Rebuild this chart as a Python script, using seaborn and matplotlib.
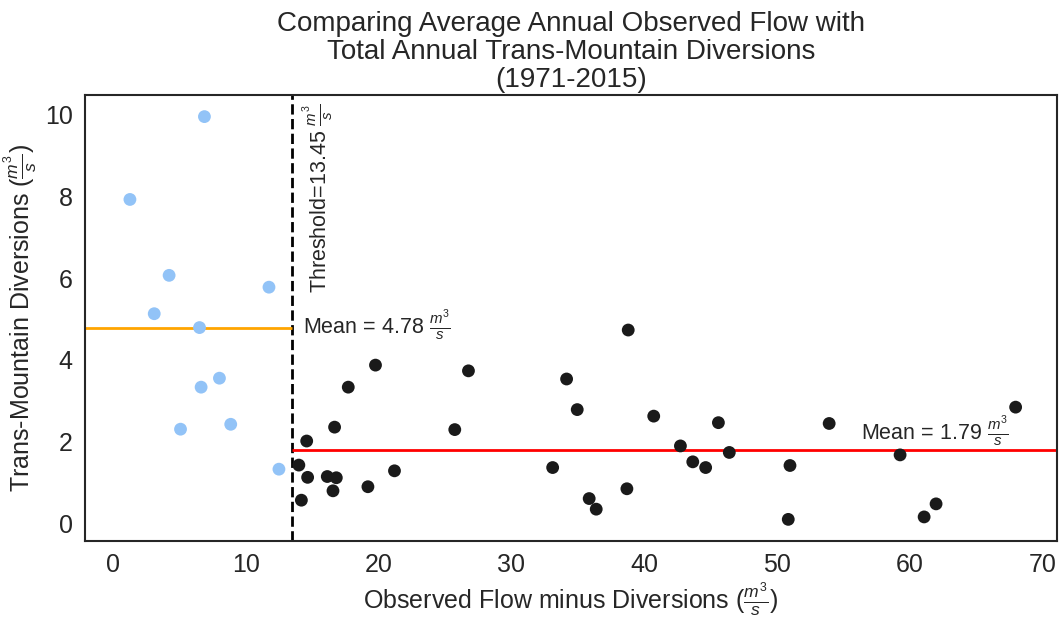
import numpy as np
import pandas as pd
import matplotlib
matplotlib.use("Agg")
import matplotlib.pyplot as plt
import seaborn as sns

# Points below the threshold (light blue)
below_x = [6.89, 1.28, 4.23, 11.75, 3.11, 6.52, 8.02, 6.64, 5.09, 8.87, 12.50]
below_y = [9.96, 7.93, 6.07, 5.78, 5.13, 4.79, 3.55, 3.33, 2.30, 2.42, 1.32]

# Points above the threshold (black)
above_x = [14.00, 14.59, 14.66, 14.19, 16.14, 16.82, 16.57, 16.69, 17.72, 19.77,
           19.20, 21.20, 25.74, 26.77, 33.11, 34.16, 34.96, 35.86, 36.39, 38.80,
           38.70, 40.72, 42.73, 43.66, 44.63, 45.59, 46.41, 50.98, 50.85, 53.93,
           59.27, 61.08, 61.98, 67.97]
above_y = [1.42, 2.01, 1.12, 0.56, 1.14, 1.11, 0.79, 2.35, 3.33, 3.87,
           0.89, 1.28, 2.29, 3.73, 1.36, 3.53, 2.78, 0.60, 0.34, 4.73,
           0.84, 2.62, 1.89, 1.50, 1.36, 2.46, 1.73, 1.41, 0.09, 2.44,
           1.67, 0.15, 0.47, 2.84]

threshold = 13.45
x_ticks = [0, 10, 20, 30, 40, 50, 60, 70]
y_ticks = [0, 2, 4, 6, 8, 10]

df = pd.DataFrame({
    "x": below_x + above_x,
    "y": below_y + above_y,
    "group": ["below"] * len(below_x) + ["above"] * len(above_x),
})

sns.set_theme(style="white")
plt.rcParams["font.family"] = ["Liberation Sans", "DejaVu Sans"]
plt.rcParams["mathtext.fontset"] = "custom"
plt.rcParams["mathtext.rm"] = "Liberation Sans"
plt.rcParams["mathtext.it"] = "Liberation Sans:italic"
plt.rcParams["mathtext.bf"] = "Liberation Sans:bold"

txt = "#262626"
fig = plt.figure(figsize=(10.59, 6.18), dpi=100)
ax = fig.add_axes([0.0803, 0.1246, 0.918, 0.7217])

sns.scatterplot(data=df, x="x", y="y", hue="group",
                palette={"below": "#92c3f7", "above": "#1a1a1a"},
                s=85, linewidth=0, legend=False, ax=ax, zorder=3)

ax.set_xlim(-2.1, 71.1)
ax.set_ylim(-0.44, 10.49)
ax.set_xticks(x_ticks)
ax.set_yticks(y_ticks)
ax.tick_params(axis="x", labelsize=18, colors=txt, pad=3)
ax.tick_params(axis="y", labelsize=18, colors=txt, pad=3)

mean_below = np.mean(below_y)
mean_above = np.mean(above_y)
xmin, xmax = ax.get_xlim()

ax.axvline(threshold, color="black", linestyle="--", linewidth=2, zorder=2)
ax.hlines(mean_below, xmin, threshold, color="orange", linewidth=2, zorder=2)
ax.hlines(mean_above, threshold, xmax, color="red", linewidth=2, zorder=2)

ax.text(threshold + 0.75, 5.64, r"Threshold=%.2f $\frac{m^3}{s}$" % threshold,
        rotation=90, ha="left", va="bottom", fontsize=15.5, color=txt)
ax.text(threshold + 0.85, mean_below - 0.34, r"Mean = %.2f $\frac{m^3}{s}$" % mean_below,
        ha="left", va="bottom", fontsize=15.5, color=txt)
ax.text(56.3, mean_above + 0.05, r"Mean = %.2f $\frac{m^3}{s}$" % mean_above,
        ha="left", va="bottom", fontsize=15.5, color=txt)

ax.set_xlabel(r"Observed Flow minus Diversions ($\frac{m^3}{s}$)", fontsize=18, color=txt, labelpad=2)
ax.set_ylabel(r"Trans-Mountain Diversions ($\frac{m^3}{s}$)", fontsize=18, color=txt, labelpad=4)
ax.set_title("Comparing Average Annual Observed Flow with\nTotal Annual Trans-Mountain Diversions\n(1971-2015)",
             fontsize=20, color=txt, linespacing=1.1, pad=6)

for sp in ax.spines.values():
    sp.set_color(txt)
    sp.set_linewidth(1.5)

fig.savefig("out.png", dpi=100)
